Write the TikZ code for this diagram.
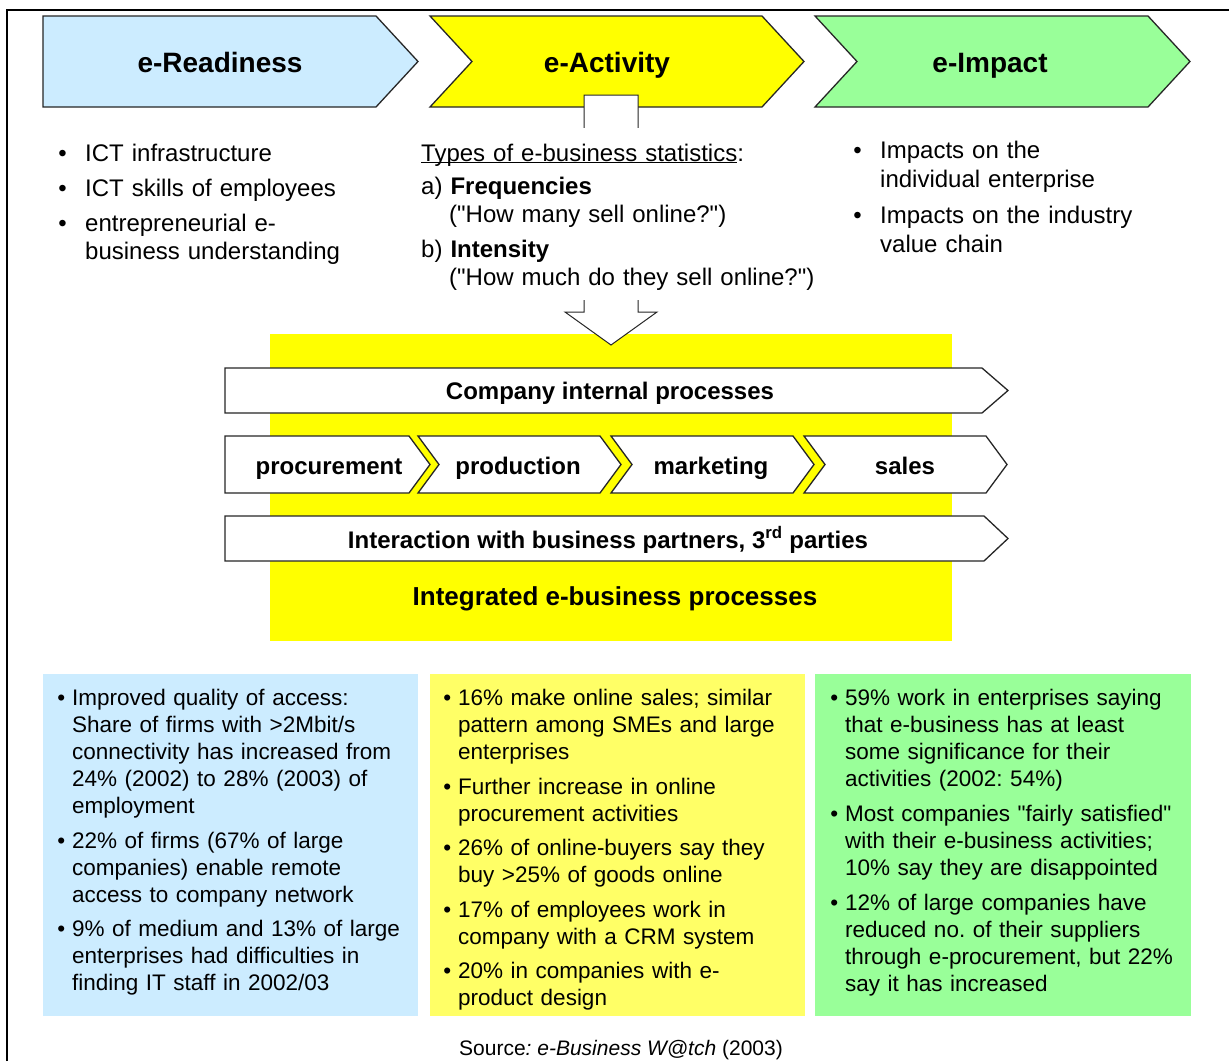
\documentclass[tikz,border=0pt]{standalone}
\usepackage{fontspec}
\setmainfont{Liberation Sans}
\frenchspacing
\definecolor{readyblue}{HTML}{CCECFF}
\definecolor{activeyellow}{HTML}{FFFF00}
\definecolor{impactgreen}{HTML}{99FF99}
\definecolor{paleyellow}{HTML}{FFFF66}
% bullet hung to the left of the text start
\newcommand{\bul}[1][7pt]{\leavevmode\llap{\textbullet\hspace{#1}}}
% straight double quote
\newcommand{\dq}{\textquotedbl}

\begin{document}
\begin{tikzpicture}[x=1pt, y=-1pt, line join=miter,
  chev/.style={draw=black!85, line width=1.3pt},
  title/.style={font=\fontsize{28}{32}\selectfont\bfseries, anchor=base, inner sep=0pt},
  proc/.style={font=\fontsize{24}{28}\selectfont\bfseries, anchor=base, inner sep=0pt},
  toplist/.style={font=\fontsize{24}{28.5}\selectfont, anchor=base west, align=left, text width=340pt, inner sep=0pt},
  panel/.style={font=\fontsize{22.5}{27.2}\selectfont, anchor=base west, align=left, text width=350pt, inner sep=0pt}]
\useasboundingbox (0,0) rectangle (1229,1061);

% === Frame ===
\draw[line width=1.6pt] (7,1061) -- (7,10) -- (1229,10);

% === Yellow band behind the process rows ===
\fill[activeyellow] (270,334) rectangle (952,641);

% === Stage chevrons ===
\filldraw[chev, fill=readyblue] (43,16) -- (376,16) -- (418,61.5) -- (376,107) -- (43,107) -- cycle;
\filldraw[chev, fill=activeyellow] (430,16) -- (762,16) -- (804,61.5) -- (762,107) -- (430,107) -- (472,61.5) -- cycle;
\filldraw[chev, fill=impactgreen] (815,16) -- (1148,16) -- (1190,61.5) -- (1148,107) -- (815,107) -- (857,61.5) -- cycle;
\node[title] (ready) at (220,72) {e-Readiness};
\node[title] (activity) at (607,72) {e-Activity};
\node[title] (impact) at (990,72) {e-Impact};

% === Block arrow down into the processes ===
\filldraw[draw=black!85, line width=1pt, fill=white] (584,95) -- (638,95) -- (638,312) -- (657,312)
  -- (611,345) -- (565,312) -- (584,312) -- cycle;

% === Lists under the chevrons ===
\node[toplist] (infra) at (85,161) {\bul[18.5pt]ICT infrastructure};
\node[toplist] (skills) at (85,196) {\bul[18.5pt]ICT skills of employees};
\node[toplist] (understand) at (85,231) {\bul[18.5pt]entrepreneurial e-\\business understanding};

\node[toplist, fill=white, text width=400pt] (stats) at (421,161) {\rule{0pt}{33pt}\underline{\smash{Types of e-business statistics}}:\\[4.5pt]
  a) \textbf{Frequencies}\\
  \hspace*{28pt}(\dq How many sell online?\dq)\\[6pt]
  b) \textbf{Intensity}\\
  \hspace*{28pt}(\dq How much do they sell online?\dq)\rule[-14pt]{0pt}{14pt}};

\node[toplist, font=\fontsize{24}{29.5}\selectfont] (firm) at (880,158) {\bul[18.5pt]Impacts on the\\individual enterprise};
\node[toplist, font=\fontsize{24}{29.5}\selectfont] (chain) at (880,223) {\bul[18.5pt]Impacts on the industry\\value chain};

% === Process rows ===
\filldraw[chev, fill=white] (225,368) -- (982,368) -- (1008,390.5) -- (982,413) -- (225,413) -- cycle;
\node[proc] (internal) at (610,399) {Company internal processes};

\foreach \name/\lx/\rx/\cx [count=\i] in {procurement/225/409/329, production/418/600/518,
    marketing/611/793/711, sales/804/986/905} {
  \ifnum\i=1 \def\nx{\lx}\else \pgfmathsetmacro\nx{\lx+21}\fi
  \filldraw[chev, fill=white] (\lx,436) -- (\rx,436) -- (\rx+21,464.5) -- (\rx,493) -- (\lx,493) -- (\nx,464.5) -- cycle;
  \node[proc] (\name) at (\cx,474) {\name};
}

\filldraw[chev, fill=white] (225,516) -- (984,516) -- (1008,538.5) -- (984,561) -- (225,561) -- cycle;
\node[proc] (partners) at (608,548) {Interaction with business partners, 3\textsuperscript{rd} parties};

\node[proc, font=\fontsize{26}{30}\selectfont\bfseries] (integrated) at (615,605) {Integrated e-business processes};

% === Findings panels ===
\fill[readyblue] (43,674) rectangle (418,1016);
\fill[paleyellow] (430,674) rectangle (805,1016);
\fill[impactgreen] (815,674) rectangle (1191,1016);

\node[panel] (access) at (72,705) {\bul Improved quality of access:\\Share of firms with >2Mbit/s\\connectivity has increased from\\24\% (2002) to 28\% (2003) of\\employment};
\node[panel] (remote) at (72,848) {\bul 22\% of firms (67\% of large\\companies) enable remote\\access to company network};
\node[panel] (staff) at (72,936) {\bul 9\% of medium and 13\% of large\\enterprises had difficulties in\\finding IT staff in 2002/03};

\node[panel] (sell) at (458,705) {\bul 16\% make online sales; similar\\pattern among SMEs and large\\enterprises};
\node[panel] (buy) at (458,794) {\bul Further increase in online\\procurement activities};
\node[panel] (buyers) at (458,855) {\bul 26\% of online-buyers say they\\buy >25\% of goods online};
\node[panel] (crm) at (458,917) {\bul 17\% of employees work in\\company with a CRM system};
\node[panel] (design) at (458,978) {\bul 20\% in companies with e-\\product design};

\node[panel] (significance) at (845,705) {\bul 59\% work in enterprises saying\\that e-business has at least\\some significance for their\\activities (2002: 54\%)};
\node[panel] (satisfied) at (845,821) {\bul Most companies \dq fairly satisfied\dq\\with their e-business activities;\\10\% say they are disappointed};
\node[panel] (suppliers) at (845,910) {\bul 12\% of large companies have\\reduced no. of their suppliers\\through e-procurement, but 22\%\\say it has increased};

\node[font=\fontsize{21}{24}\selectfont, anchor=base, inner sep=0pt] (source) at (621,1055) {Source\textit{: e-Business W@tch} (2003)};
\end{tikzpicture}
\end{document}
